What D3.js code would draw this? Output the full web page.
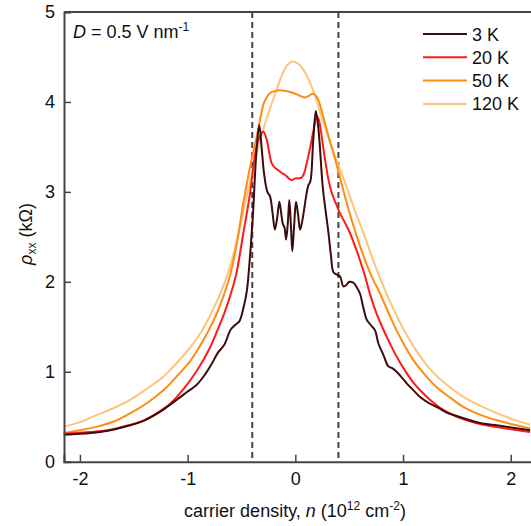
<!DOCTYPE html>
<html lang="en">
<head>
<meta charset="UTF-8">
<title>rho_xx vs carrier density</title>
<script src="https://d3js.org/d3.v7.min.js"></script>
<style>
  body { margin: 0; background: #fff; }
  svg { font-family: "Liberation Sans", Arial, sans-serif; }
</style>
</head>
<body>
<svg id="chart" width="531" height="526"></svg>
<script>
// data: [n (1e12 cm^-2), rho_xx (kOhm)]
const curve3K = [[-2.15,0.30],[-1.9,0.32],[-1.74,0.345],[-1.55,0.40],[-1.40,0.46],[-1.25,0.56],[-1.10,0.69],[-1.0,0.78],[-0.92,0.85],[-0.85,0.95],[-0.78,1.08],[-0.72,1.21],[-0.66,1.30],[-0.60,1.47],[-0.56,1.52],[-0.52,1.56],[-0.48,1.72],[-0.45,1.90],[-0.42,2.30],[-0.395,2.72],[-0.36,3.47],[-0.335,3.74],[-0.31,3.45],[-0.29,3.20],[-0.26,3.00],[-0.235,2.95],[-0.21,2.75],[-0.19,2.58],[-0.17,2.70],[-0.148,2.89],[-0.13,2.75],[-0.117,2.65],[-0.10,2.60],[-0.086,2.47],[-0.07,2.65],[-0.056,2.91],[-0.04,2.60],[-0.028,2.34],[-0.01,2.65],[0.006,2.89],[0.025,2.75],[0.044,2.58],[0.06,2.65],[0.081,2.80],[0.10,2.95],[0.12,3.07],[0.14,3.12],[0.165,3.55],[0.19,3.90],[0.21,3.75],[0.225,3.55],[0.254,3.06],[0.28,2.80],[0.307,2.55],[0.33,2.30],[0.353,2.11],[0.384,2.08],[0.415,2.06],[0.446,1.95],[0.47,1.96],[0.50,2.00],[0.539,1.99],[0.57,1.94],[0.60,1.87],[0.63,1.72],[0.663,1.58],[0.70,1.52],[0.74,1.46],[0.77,1.32],[0.82,1.18],[0.864,1.06],[0.90,1.04],[0.94,1.00],[1.0,0.92],[1.034,0.87],[1.10,0.79],[1.158,0.72],[1.23,0.66],[1.31,0.61],[1.40,0.55],[1.47,0.52],[1.6,0.47],[1.715,0.43],[1.9,0.40],[2.18,0.35]];
const curve20K = [[-2.15,0.31],[-1.9,0.33],[-1.74,0.35],[-1.6,0.39],[-1.435,0.445],[-1.3,0.53],[-1.157,0.65],[-1.03,0.82],[-0.91,1.02],[-0.8,1.25],[-0.724,1.46],[-0.66,1.65],[-0.606,1.84],[-0.55,2.08],[-0.483,2.54],[-0.42,2.99],[-0.39,3.28],[-0.353,3.54],[-0.32,3.64],[-0.297,3.67],[-0.266,3.58],[-0.24,3.42],[-0.22,3.32],[-0.19,3.27],[-0.158,3.24],[-0.125,3.21],[-0.096,3.19],[-0.06,3.15],[-0.034,3.13],[0.0,3.15],[0.03,3.15],[0.06,3.16],[0.085,3.22],[0.106,3.32],[0.13,3.45],[0.152,3.58],[0.175,3.72],[0.199,3.84],[0.218,3.80],[0.236,3.69],[0.256,3.52],[0.276,3.36],[0.305,3.15],[0.338,2.99],[0.38,2.86],[0.415,2.76],[0.46,2.66],[0.508,2.54],[0.55,2.41],[0.60,2.24],[0.65,2.05],[0.694,1.86],[0.75,1.66],[0.817,1.47],[0.88,1.31],[0.94,1.17],[1.02,1.01],[1.096,0.88],[1.17,0.78],[1.25,0.69],[1.37,0.58],[1.50,0.50],[1.62,0.45],[1.746,0.41],[1.95,0.37],[2.18,0.33]];
const curve50K = [[-2.15,0.32],[-2.0,0.35],[-1.84,0.39],[-1.68,0.45],[-1.53,0.54],[-1.38,0.65],[-1.22,0.80],[-1.1,0.95],[-0.97,1.13],[-0.86,1.34],[-0.755,1.58],[-0.68,1.80],[-0.60,2.10],[-0.54,2.45],[-0.483,2.88],[-0.42,3.28],[-0.358,3.62],[-0.32,3.85],[-0.297,3.97],[-0.266,4.05],[-0.235,4.10],[-0.19,4.12],[-0.142,4.13],[-0.08,4.12],[-0.019,4.10],[0.04,4.07],[0.09,4.05],[0.13,4.07],[0.16,4.09],[0.19,4.07],[0.214,4.02],[0.245,3.90],[0.276,3.76],[0.322,3.56],[0.37,3.36],[0.415,3.16],[0.47,2.91],[0.53,2.66],[0.60,2.40],[0.66,2.20],[0.72,2.03],[0.786,1.87],[0.86,1.67],[0.94,1.46],[1.02,1.28],[1.096,1.13],[1.2,0.97],[1.31,0.83],[1.44,0.71],[1.56,0.61],[1.72,0.52],[1.87,0.46],[2.0,0.42],[2.18,0.37]];
const curve120K = [[-2.15,0.39],[-2.0,0.44],[-1.84,0.52],[-1.68,0.60],[-1.53,0.69],[-1.38,0.81],[-1.22,0.95],[-1.1,1.10],[-0.97,1.28],[-0.87,1.45],[-0.785,1.64],[-0.70,1.86],[-0.63,2.08],[-0.55,2.42],[-0.483,2.78],[-0.40,3.22],[-0.328,3.57],[-0.266,3.82],[-0.19,4.08],[-0.13,4.28],[-0.08,4.40],[-0.03,4.45],[0.02,4.43],[0.074,4.36],[0.152,4.17],[0.229,3.89],[0.322,3.55],[0.40,3.30],[0.477,3.05],[0.55,2.80],[0.63,2.55],[0.72,2.25],[0.817,1.95],[0.91,1.70],[1.0,1.48],[1.12,1.24],[1.25,1.03],[1.4,0.86],[1.56,0.72],[1.72,0.62],[1.87,0.54],[2.02,0.47],[2.18,0.41]];

const seriesNames = ["3 K", "20 K", "50 K", "120 K"];
const seriesData = [curve3K, curve20K, curve50K, curve120K];
const seriesColors = ["#3d0c0c", "#ff1a1a", "#ff8c12", "#fdc47f"];
const xTicks = [-2, -1, 0, 1, 2];
const yTicks = [0, 1, 2, 3, 4, 5];
const dashedAt = [-0.4, 0.4];

const svg = d3.select("#chart");

const x = d3.scaleLinear().domain([-2.148, 2.2]).range([64, 64 + 4.348 * 107.7]);
const y = d3.scaleLinear().domain([0, 5]).range([461.7, 12]);

const plot = svg.append("g");

// dashed guides
plot.selectAll(".guide")
  .data(dashedAt)
  .enter().append("line")
  .attr("class", "guide")
  .attr("x1", d => x(d)).attr("x2", d => x(d))
  .attr("y1", y(5)).attr("y2", y(0))
  .attr("stroke", "#444")
  .attr("stroke-width", 2)
  .attr("stroke-dasharray", "6,4");

const line = d3.line()
  .x(d => x(d[0]))
  .y(d => y(d[1]))
  .curve(d3.curveCatmullRom.alpha(0.5));

// warm curves first, coldest on top
const order = [3, 2, 1, 0];
plot.selectAll(".curve")
  .data(order)
  .enter().append("path")
  .attr("class", "curve")
  .attr("d", i => line(seriesData[i]))
  .attr("fill", "none")
  .attr("stroke", i => seriesColors[i])
  .attr("stroke-width", 2);

// axes
const axisColor = "#444";
const xAxis = svg.append("g")
  .attr("transform", `translate(0,${y(0)})`)
  .call(d3.axisBottom(x).tickValues(xTicks).tickSize(-7).tickPadding(11).tickFormat(d => String(d)));
const yAxis = svg.append("g")
  .attr("transform", `translate(${x(-2.148)},0)`)
  .call(d3.axisLeft(y).tickValues(yTicks).tickSize(-7).tickPadding(9).tickFormat(d => String(d)));

[xAxis, yAxis].forEach(g => {
  g.select(".domain").attr("stroke", axisColor).attr("stroke-width", 2);
  g.selectAll(".tick line").attr("stroke", axisColor).attr("stroke-width", 1.5);
  g.selectAll(".tick text").attr("fill", "#111").style("font-size", "18px").style("font-family", "Liberation Sans, Arial, sans-serif");
});
yAxis.selectAll(".tick").filter(d => d === 0).select("line").remove();

// top and right spines
svg.append("line")
  .attr("x1", x(-2.148)).attr("x2", x(2.2))
  .attr("y1", y(5)).attr("y2", y(5))
  .attr("stroke", axisColor).attr("stroke-width", 2);
svg.append("line")
  .attr("x1", x(2.2)).attr("x2", x(2.2))
  .attr("y1", y(5)).attr("y2", y(0))
  .attr("stroke", axisColor).attr("stroke-width", 2);

// annotation
const ann = svg.append("text").attr("x", 73).attr("y", 38).style("font-size", "18px").attr("fill", "#111");
ann.append("tspan").style("font-style", "italic").text("D");
ann.append("tspan").text(" = 0.5 V nm");
ann.append("tspan").attr("dy", -7).style("font-size", "12px").text("-1");

// legend
const legend = svg.append("g").attr("transform", "translate(423,34)");
seriesNames.forEach((name, i) => {
  const row = legend.append("g").attr("transform", `translate(0,${i * 23.3})`);
  row.append("line").attr("x1", 0).attr("x2", 44).attr("y1", 0).attr("y2", 0)
    .attr("stroke", seriesColors[i]).attr("stroke-width", 2);
  row.append("text").attr("x", 49).attr("y", 6.5).style("font-size", "18px").attr("fill", "#111").text(name);
});

// axis titles
const xt = svg.append("text")
  .attr("x", 295).attr("y", 517)
  .attr("text-anchor", "middle")
  .style("font-size", "18px").attr("fill", "#111");
xt.append("tspan").text("carrier density, ");
xt.append("tspan").style("font-style", "italic").text("n");
xt.append("tspan").text(" (10");
xt.append("tspan").attr("dy", -7).style("font-size", "12px").text("12");
xt.append("tspan").attr("dy", 7).text(" cm");
xt.append("tspan").attr("dy", -7).style("font-size", "12px").text("-2");
xt.append("tspan").attr("dy", 7).text(")");

const yt = svg.append("text")
  .attr("transform", "translate(32,234) rotate(-90)")
  .attr("text-anchor", "middle")
  .style("font-size", "18px").attr("fill", "#111");
yt.append("tspan").style("font-style", "italic").text("ρ");
yt.append("tspan").attr("dy", 4).style("font-size", "12px").text("xx");
yt.append("tspan").attr("dy", -4).text(" (kΩ)");
</script>
</body>
</html>
